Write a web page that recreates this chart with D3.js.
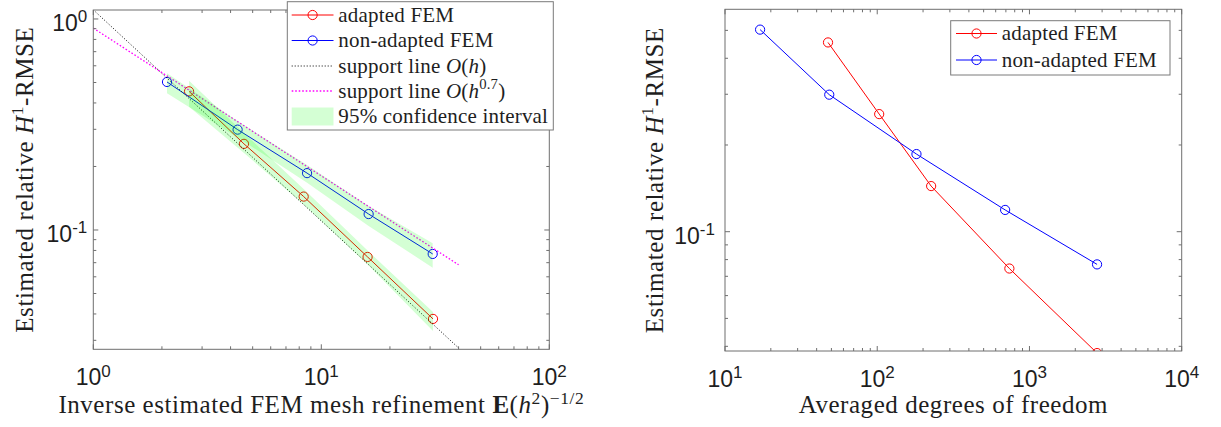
<!DOCTYPE html>
<html><head><meta charset="utf-8">
<script src="https://cdn.jsdelivr.net/npm/d3@7"></script>
<style>
html,body{margin:0;padding:0;background:#fff;}
svg{display:block;}
</style></head><body>
<svg id="chart" width="1221" height="427"></svg>
<script>
// Estimated relative H1-RMSE for each refinement level
const errAdapted    = [0.454, 0.256, 0.144, 0.0745, 0.0379];
const errNonAdapted = [0.503, 0.299, 0.186, 0.119, 0.077];
// Inverse estimated FEM mesh refinement E(h^2)^(-1/2)
const invhAdapted    = [2.63, 4.58, 8.37, 15.96, 30.9];
const invhNonAdapted = [2.105, 4.295, 8.66, 16.13, 30.8];
// Averaged degrees of freedom
const dofAdapted    = [47.5, 103, 226, 738, 2780];
const dofNonAdapted = [17.0, 48.4, 181, 692, 2780];
// 95% confidence bounds of the RMSE estimate
const ciAdaptedLower    = [0.384, 0.2317, 0.1321, 0.0686, 0.0332];
const ciAdaptedUpper    = [0.510, 0.288, 0.1564, 0.0799, 0.0409];
const ciNonAdaptedLower = [0.445, 0.2745, 0.1676, 0.1045, 0.0663];
const ciNonAdaptedUpper = [0.553, 0.3285, 0.2032, 0.1299, 0.0865];
// Support lines O(h) and O(h^0.7), end points
const supportHx   = [1, 40];
const supportHy   = [1.105, 0.0276];
const supportH07x = [1, 40];
const supportH07y = [0.905, 0.0684];
// Axis limits and labelled ticks
const leftXLim  = [1, 100];
const leftYLim  = [0.0272, 1.103];
const rightXLim = [10, 10000];
const rightYLim = [0.03853, 0.5917];
const leftXTicks  = [1, 10, 100];
const leftYTicks  = [0.1, 1];
const rightXTicks = [10, 100, 1000, 10000];
const rightYTicks = [0.1];

const RED = "#ff0000", BLUE = "#0000ff", MAG = "#ff00ff", CI = "#00ff00", CI_OP = 0.17;
const AX = "#6f6f6f", TXT = "#1e1e1e";
const SERIF = "'Liberation Serif', 'Times New Roman', serif";
const SANS = "'Liberation Sans', Arial, Helvetica, sans-serif";

const svg = d3.select("#chart");

// rich text: segments {t, i (italic), b (bold), sup}
function rich(sel, segs, size, supScale = 0.7, supRise = 0.4) {
  let shift = 0;
  segs.forEach(s => {
    const ts = sel.append("tspan").text(s.t);
    const target = s.sup ? -size * supRise : 0;
    if (target !== shift) { ts.attr("dy", target - shift); shift = target; }
    if (s.sup) ts.attr("font-size", size * supScale);
    if (s.i) ts.attr("font-style", "italic");
    if (s.b) ts.attr("font-weight", "bold");
  });
  return sel;
}

function expOf(v) { return Math.round(Math.log10(v)); }

function panel(cfg) {
  const x = d3.scaleLog().domain(cfg.xLim).range([cfg.x0, cfg.x1]);
  const y = d3.scaleLog().domain(cfg.yLim).range([cfg.y1, cfg.y0]);
  const g = svg.append("g");
  const clipId = "clip" + cfg.id;
  svg.append("clipPath").attr("id", clipId).append("rect")
    .attr("x", cfg.x0).attr("y", cfg.y0)
    .attr("width", cfg.x1 - cfg.x0).attr("height", cfg.y1 - cfg.y0);
  const plot = g.append("g").attr("clip-path", `url(#${clipId})`);
  const axes = g.append("g").attr("stroke", AX).attr("stroke-width", 1).attr("fill", "none");

  // minor + major ticks, inward on all four sides
  const isMajor = v => Math.abs(Math.log10(v) - Math.round(Math.log10(v))) < 1e-9;
  const xt = x.ticks().filter(v => v >= cfg.xLim[0] && v <= cfg.xLim[1]);
  const yt = y.ticks().filter(v => v >= cfg.yLim[0] && v <= cfg.yLim[1]);
  xt.forEach(v => {
    const L = isMajor(v) ? 5 : 3, px = x(v);
    axes.append("line").attr("x1", px).attr("x2", px).attr("y1", cfg.y1).attr("y2", cfg.y1 - L);
    axes.append("line").attr("x1", px).attr("x2", px).attr("y1", cfg.y0).attr("y2", cfg.y0 + L);
  });
  yt.forEach(v => {
    const L = isMajor(v) ? 5 : 3, py = y(v);
    axes.append("line").attr("y1", py).attr("y2", py).attr("x1", cfg.x0).attr("x2", cfg.x0 + L);
    axes.append("line").attr("y1", py).attr("y2", py).attr("x1", cfg.x1).attr("x2", cfg.x1 - L);
  });
  axes.append("rect").attr("x", cfg.x0).attr("y", cfg.y0)
    .attr("width", cfg.x1 - cfg.x0).attr("height", cfg.y1 - cfg.y0);

  // tick labels 10^n
  cfg.xTicks.forEach(v => {
    const t = g.append("text").attr("x", x(v)).attr("y", cfg.y1 + 36)
      .attr("text-anchor", "middle").attr("font-family", SANS).attr("font-size", 23).attr("fill", TXT);
    rich(t, [{t: "10"}, {t: String(expOf(v)), sup: true}], 23, 0.74, 0.37);
  });
  cfg.yTicks.forEach(v => {
    const t = g.append("text").attr("x", cfg.x0 - cfg.yLabGap).attr("y", y(v) + 12)
      .attr("text-anchor", "end").attr("font-family", SANS).attr("font-size", 23).attr("fill", TXT);
    rich(t, [{t: "10"}, {t: String(expOf(v)), sup: true}], 23, 0.74, 0.37);
  });

  // axis labels
  const xl = g.append("text").attr("x", (cfg.x0 + cfg.x1) / 2).attr("y", 413)
    .attr("text-anchor", "middle").attr("font-family", SERIF).attr("font-size", 25)
    .attr("letter-spacing", 0.55).attr("fill", TXT);
  rich(xl, cfg.xLabel, 25, 0.7, 0.36);
  const yl = g.append("text").attr("transform", `translate(${cfg.yLabX},${(cfg.y0 + cfg.y1) / 2}) rotate(-90)`)
    .attr("text-anchor", "middle").attr("font-family", SERIF).attr("font-size", 25)
    .attr("letter-spacing", 0.6).attr("fill", TXT);
  rich(yl, [{t: "Estimated relative "}, {t: "H", i: 1}, {t: "1", sup: 1}, {t: "-RMSE"}], 25);

  return {x, y, g, plot};
}

function series(p, xs, ys, color) {
  const pts = xs.map((v, i) => [v, ys[i]]);
  p.plot.append("path").datum(pts)
    .attr("d", d3.line().x(d => p.x(d[0])).y(d => p.y(d[1])))
    .attr("fill", "none").attr("stroke", color).attr("stroke-width", 1);
  p.plot.selectAll(null).data(pts).enter().append("circle")
    .attr("cx", d => p.x(d[0])).attr("cy", d => p.y(d[1])).attr("r", 4.6)
    .attr("fill", "none").attr("stroke", color).attr("stroke-width", 1);
}

function band(p, xs, lo, hi) {
  const pts = xs.map((v, i) => ({x: v, lo: lo[i], hi: hi[i]}));
  p.plot.append("path").datum(pts)
    .attr("d", d3.area().x(d => p.x(d.x)).y0(d => p.y(d.lo)).y1(d => p.y(d.hi)))
    .attr("fill", CI).attr("fill-opacity", CI_OP).attr("stroke", "none");
}

function support(p, xs, ys, color, dash, w) {
  p.plot.append("path").datum(xs.map((v, i) => [v, ys[i]]))
    .attr("d", d3.line().x(d => p.x(d[0])).y(d => p.y(d[1])))
    .attr("fill", "none").attr("stroke", color).attr("stroke-width", w).attr("stroke-dasharray", dash);
}

function legend(box, items, sx0, sx1, tx) {
  const g = svg.append("g");
  g.append("rect").attr("x", box[0]).attr("y", box[1]).attr("width", box[2] - box[0]).attr("height", box[3] - box[1])
    .attr("fill", "#fff").attr("stroke", "#7a7a7a").attr("stroke-width", 1);
  items.forEach(it => {
    const cy = it.y, mx = (sx0 + sx1) / 2;
    if (it.kind === "patch") {
      g.append("rect").attr("x", sx0).attr("y", cy - 9).attr("width", sx1 - sx0).attr("height", 18)
        .attr("fill", CI).attr("fill-opacity", CI_OP);
    } else {
      g.append("line").attr("x1", sx0).attr("x2", sx1).attr("y1", cy).attr("y2", cy)
        .attr("stroke", it.color).attr("stroke-width", it.w || 1).attr("stroke-dasharray", it.dash || null);
      if (it.kind === "marker")
        g.append("circle").attr("cx", mx).attr("cy", cy).attr("r", 4.6)
          .attr("fill", "none").attr("stroke", it.color).attr("stroke-width", 1);
    }
    const t = g.append("text").attr("x", tx).attr("y", cy + 6.5).attr("font-family", SERIF)
      .attr("font-size", 21).attr("letter-spacing", 0.2).attr("fill", TXT);
    rich(t, it.label, 21);
  });
}

// ---- left: error vs mesh refinement ----
const L = panel({
  id: "L", x0: 93.3, x1: 549.3, y0: 10, y1: 349.3, xLim: leftXLim, yLim: leftYLim,
  xTicks: leftXTicks, yTicks: leftYTicks, yLabGap: 6, yLabX: 33,
  xLabel: [{t: "Inverse estimated FEM mesh refinement "}, {t: "E", b: 1}, {t: "("}, {t: "h", i: 1},
           {t: "2", sup: 1}, {t: ")"}, {t: "\u22121/2", sup: 1}]
});
series(L, invhAdapted, errAdapted, RED);
series(L, invhNonAdapted, errNonAdapted, BLUE);
support(L, supportHx, supportHy, "#000", "1,2", 1);
support(L, supportH07x, supportH07y, MAG, "1.6,1.9", 1.3);
band(L, invhAdapted, ciAdaptedLower, ciAdaptedUpper);
band(L, invhNonAdapted, ciNonAdaptedLower, ciNonAdaptedUpper);

legend([287.3, 1.7, 553.3, 130], [
  {kind: "marker", color: RED, y: 15, label: [{t: "adapted FEM"}]},
  {kind: "marker", color: BLUE, y: 40.5, label: [{t: "non-adapted FEM"}]},
  {kind: "line", color: "#000", dash: "1,2", y: 66, label: [{t: "support line "}, {t: "O", i: 1}, {t: "("}, {t: "h", i: 1}, {t: ")"}]},
  {kind: "line", color: MAG, dash: "1.6,1.9", w: 1.3, y: 91, label: [{t: "support line "}, {t: "O", i: 1}, {t: "("}, {t: "h", i: 1}, {t: "0.7", sup: 1}, {t: ")"}]},
  {kind: "patch", y: 116.5, label: [{t: "95% confidence interval"}]}
], 291.7, 333.5, 338.3);

// ---- right: error vs degrees of freedom ----
const R = panel({
  id: "R", x0: 725, x1: 1181.7, y0: 9.3, y1: 351, xLim: rightXLim, yLim: rightYLim,
  xTicks: rightXTicks, yTicks: rightYTicks, yLabGap: 10, yLabX: 663,
  xLabel: [{t: "Averaged degrees of freedom"}]
});
series(R, dofAdapted, errAdapted, RED);
series(R, dofNonAdapted, errNonAdapted, BLUE);

legend([950.7, 20.7, 1170, 75], [
  {kind: "marker", color: RED, y: 33.5, label: [{t: "adapted FEM"}]},
  {kind: "marker", color: BLUE, y: 60, label: [{t: "non-adapted FEM"}]}
], 956, 997, 1001.7);
</script>
</body></html>
